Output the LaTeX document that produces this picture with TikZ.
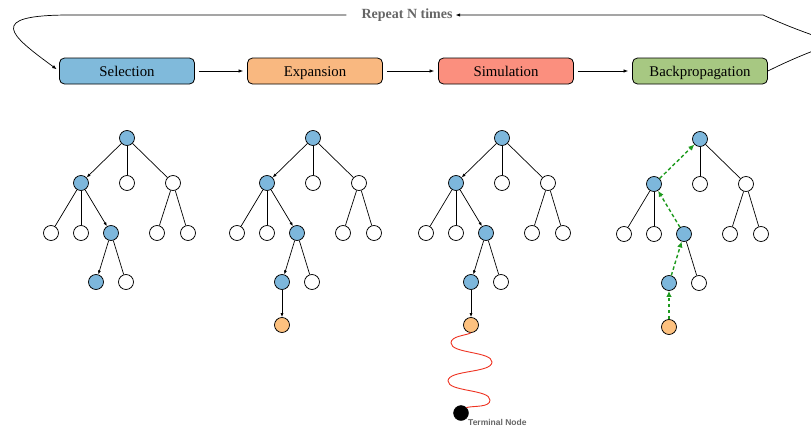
\documentclass[tikz,border=0pt]{standalone}
\usepackage{fontspec}
\setmainfont{Liberation Serif}
\newfontfamily\lsans{Liberation Sans}
\usetikzlibrary{arrows.meta}
\definecolor{cselect}{HTML}{80BADB}
\definecolor{cexpand}{HTML}{F9B880}
\definecolor{csimul}{HTML}{FB8F7E}
\definecolor{cbackp}{HTML}{A7C882}
\definecolor{tblue}{HTML}{7DB7DC}
\definecolor{torange}{HTML}{FDC17F}
\definecolor{tgreen}{HTML}{1E9A1E}
\definecolor{cwave}{HTML}{EE3322}
\definecolor{cgray}{HTML}{666666}
\tikzset{
  box/.style={draw=black, line width=0.8pt, rounded corners=5pt, minimum width=135pt,
    minimum height=26pt, inner sep=0pt, text height=10pt, text depth=0pt,
    font=\fontsize{14.8}{17}\selectfont},
  tn/.style={circle, draw=black, line width=0.75pt, minimum size=15pt, inner sep=0pt, fill=white},
  bl/.style={tn, fill=tblue},
  og/.style={tn, fill=torange},
  tedge/.style={draw=black, line width=0.7pt},
  aedge/.style={tedge, -{Latex[length=4pt,width=3pt]}},
  gedge/.style={draw=tgreen, line width=1.4pt, dash pattern=on 3.5pt off 2.5pt,
    -{Latex[length=6pt,width=5.5pt]}},
  conn/.style={draw=black, line width=0.7pt, -{Latex[length=4.5pt,width=3.5pt]}},
}
\newcommand\mctsnodes[3]{%
  \begin{scope}[shift={(#2,#3)}]
    \node[bl] (#1r) at (0,0) {};
    \node[bl] (#1a) at (-46,45) {};
    \node[tn] (#1b) at (0,45) {};
    \node[tn] (#1c) at (46,45) {};
    \node[tn] (#1d) at (-76,95) {};
    \node[tn] (#1e) at (-46,95) {};
    \node[bl] (#1f) at (-16,95) {};
    \node[tn] (#1g) at (30,95) {};
    \node[tn] (#1h) at (61,95) {};
    \node[bl] (#1i) at (-31,144) {};
    \node[tn] (#1j) at (-1,144) {};
  \end{scope}
  \draw[tedge] (#1r) -- (#1b);
  \draw[tedge] (#1r) -- (#1c);
  \draw[tedge] (#1a) -- (#1d);
  \draw[tedge] (#1a) -- (#1e);
  \draw[tedge] (#1c) -- (#1g);
  \draw[tedge] (#1c) -- (#1h);
  \draw[tedge] (#1f) -- (#1j);
}
\begin{document}
\begin{tikzpicture}[x=1pt, y=-1pt]
\useasboundingbox (0,0) rectangle (811,426);

% stage boxes
\node[box, fill=cselect] (sel) at (127,71) {Selection};
\node[box, fill=cexpand] (exp) at (315,71) {Expansion};
\node[box, fill=csimul]  (sim) at (506,71) {Simulation};
\node[box, fill=cbackp]  (bp)  at (700,71) {Backpropagation};

\draw[conn, shorten <=4pt, shorten >=4pt] (sel) -- (exp);
\draw[conn, shorten <=4pt, shorten >=4pt] (exp) -- (sim);
\draw[conn, shorten <=4pt, shorten >=4pt] (sim) -- (bp);

% repeat loop
\node[font=\bfseries\fontsize{14}{16}\selectfont, text=cgray, inner sep=2pt] (rep) at (407,15) {Repeat N times};
\coordinate (lc) at (70,15);
\coordinate (rc) at (763,15);
\draw[conn, shorten >=3pt] ([xshift=-13pt]rep.west) -- (lc) .. controls (-15,15) and (10,35) .. (sel.west);
\draw[conn] (bp.east) .. controls (850,30) and (850,55) .. (rc) -- ([xshift=1pt]rep.east);

% tree 1: selection
\mctsnodes{s}{127}{138}
\draw[aedge] (sr) -- (sa);
\draw[aedge] (sa) -- (sf);
\draw[aedge] (sf) -- (si);

% tree 2: expansion
\mctsnodes{e}{313}{138}
\node[og] (ez) at (282,325) {};
\draw[aedge] (er) -- (ea);
\draw[aedge] (ea) -- (ef);
\draw[aedge] (ef) -- (ei);
\draw[aedge] (ei) -- (ez);

% tree 3: simulation
\mctsnodes{m}{502}{138}
\node[og] (mz) at (471,325) {};
\draw[aedge] (mr) -- (ma);
\draw[aedge] (ma) -- (mf);
\draw[aedge] (mf) -- (mi);
\draw[aedge] (mi) -- (mz);
\node[circle, fill=black, draw=black, minimum size=15pt, inner sep=0pt] (term) at (461,413) {};
\coordinate (w1) at (451,343);
\coordinate (w2) at (492,362);
\coordinate (w3) at (448,381);
\coordinate (w4) at (490,400);
\draw[cwave, line width=0.9pt] (mz.south) to[out=205,in=90,looseness=0.8] (w1)
  to[out=270,in=90,looseness=0.6] (w2)
  to[out=270,in=90,looseness=0.6] (w3)
  to[out=270,in=90,looseness=0.6] (w4)
  to[out=270,in=15,looseness=0.8] (term.north east);
\node[font=\lsans\bfseries\fontsize{8.5}{10}\selectfont, text=cgray, anchor=west, inner sep=0pt] (tlab) at (468,422) {Terminal Node};

% tree 4: backpropagation
\mctsnodes{b}{700}{139}
\node[og] (bz) at (669,327) {};
\draw[gedge] (bz) -- (bi);
\draw[gedge] (bi) -- (bf);
\draw[gedge] (bf) -- (ba);
\draw[gedge] (ba) -- (br);
\end{tikzpicture}
\end{document}
